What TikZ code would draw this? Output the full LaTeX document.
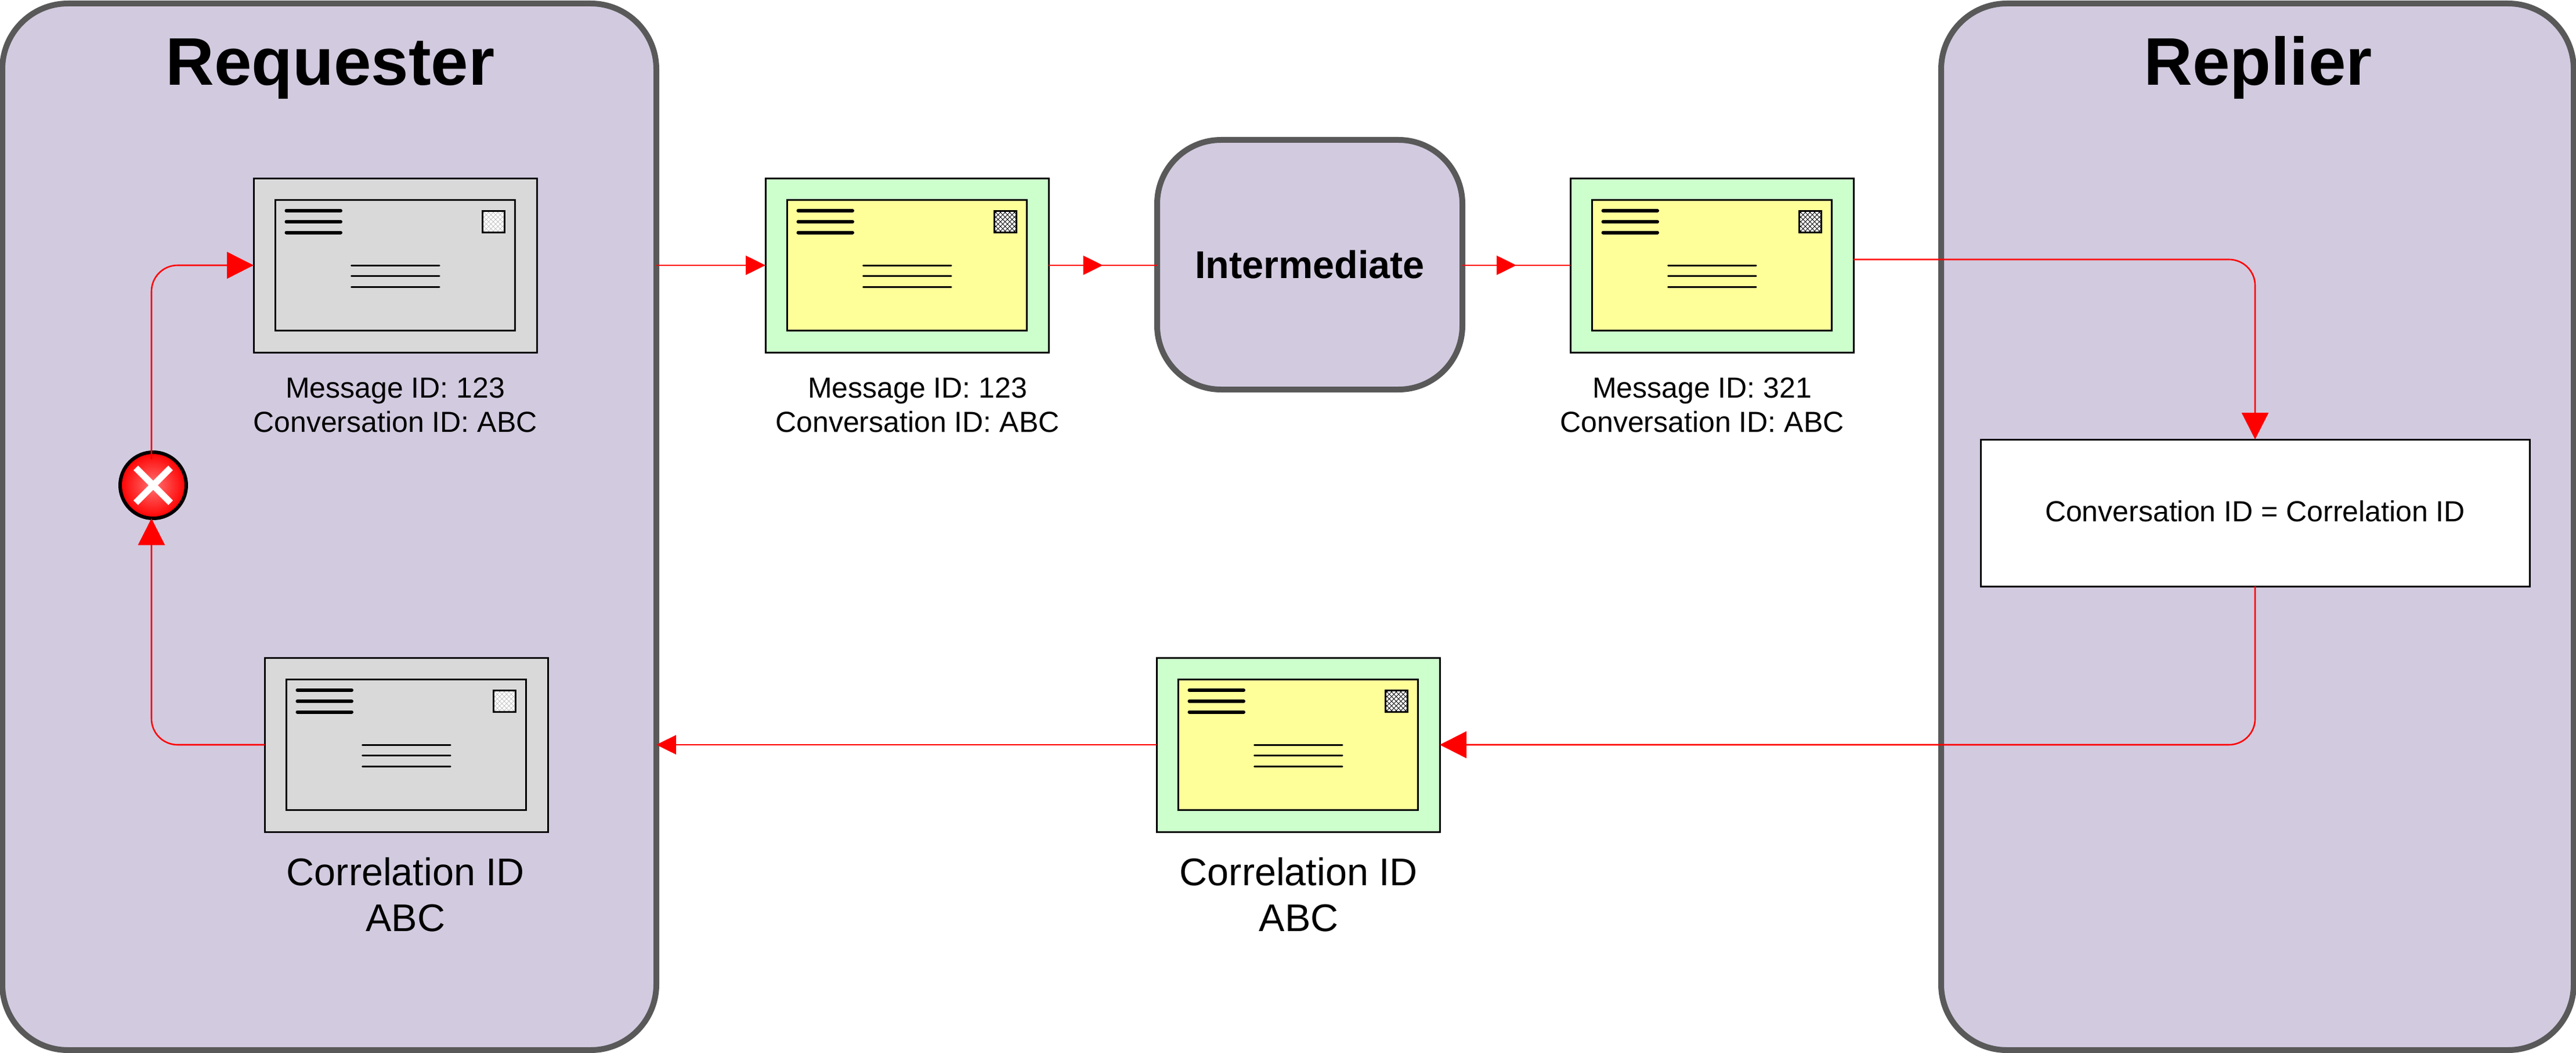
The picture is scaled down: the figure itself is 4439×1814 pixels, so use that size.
\documentclass[tikz,border=0pt]{standalone}
\usepackage{fontspec}
\setmainfont{Liberation Sans}
\usetikzlibrary{arrows.meta,calc,decorations.markings,positioning}
\definecolor{panelfill}{HTML}{D2CADF}
\definecolor{panelline}{HTML}{595959}
\definecolor{envgray}{HTML}{D9D9D9}
\definecolor{envgreen}{HTML}{CCFFCC}
\definecolor{envyellow}{HTML}{FFFF99}
\definecolor{hatchlight}{HTML}{C4C4C4}
\tikzset{
  panel/.style={draw=panelline,fill=panelfill,line width=10pt,rounded corners=113pt,inner sep=0pt,outer sep=0pt},
  envbox/.style={draw=black,line width=3pt,inner sep=0pt,outer sep=0pt,minimum width=488pt,minimum height=300pt,anchor=north west},
  conn/.style={draw=red,line width=2.6pt,rounded corners=45pt},
  bigtip/.tip={Triangle[length=46pt,width=46pt,fill=red]},
  smalltip/.tip={Triangle[length=34pt,width=33pt,fill=red]},
  midtip/.style={postaction={decorate},decoration={markings,mark=at position 0.5 with {\arrow{smalltip}}}},
  small/.style={align=center,font=\fontsize{50}{59.5}\selectfont,inner sep=0pt},
  corr/.style={align=center,font=\fontsize{66.5}{79}\selectfont,inner sep=0pt},
  title/.style={anchor=base,font=\fontsize{116}{120}\selectfont\bfseries,inner sep=0pt},
}
\newcommand{\mailpiece}[6]{%
  \node[envbox,fill=#4] (#1) at (#2,#3) {};
  \begin{scope}[shift={(#2,#3)}]
    \draw[black,line width=3pt,fill=#5] (37.6,37) rectangle (450.6,262);
    \foreach \yy in {56,75,93.5}
      \draw[black,line width=6pt,line cap=round] (56.5,\yy) -- (150,\yy);
    \foreach \yy in {150,168.5,187}
      \draw[black,line width=3pt,line cap=round] (168.5,\yy) -- (320,\yy);
    \fill[white] (394,56) rectangle (432,93);
    \begin{scope}
      \clip (394,56) rectangle (432,93);
      \foreach \dd in {-40,-32,...,40} {
        \draw[#6,line width=1pt] (394+\dd,56) -- (431+\dd,93);
        \draw[#6,line width=1pt] (432+\dd,56) -- (395+\dd,93);
      }
    \end{scope}
    \draw[black,line width=3pt] (394,56) rectangle (432,93);
  \end{scope}
}
\begin{document}
\begin{tikzpicture}[x=1pt,y=-1pt]
\useasboundingbox (0,0) rectangle (4439,1814);
\fill[white] (0,0) rectangle (4439,1814);
% panels
\node[panel,minimum width=1127pt,minimum height=1803pt,anchor=north west] (requester) at (4,6) {};
\node[panel,minimum width=1090pt,minimum height=1803pt,anchor=north west] (replier) at (3345,6) {};
\node[panel,minimum width=526pt,minimum height=430pt,rounded corners=110pt,anchor=north west,font=\fontsize{66.6}{70}\selectfont\bfseries] (intermediate) at (1994,241) {Intermediate};
\node[title] (reqtitle) at (569,147) {Requester};
\node[title] (reptitle) at (3891,147) {Replier};
% process box
\node[draw=black,fill=white,line width=3pt,inner sep=0pt,outer sep=0pt,minimum width=946pt,minimum height=253pt,anchor=north west] (rule) at (3413,757) {};
\node[font=\fontsize{50}{60}\selectfont,inner sep=0pt,yshift=3pt] (ruletext) at (rule.center) {Conversation ID = Correlation ID};
% failure mark
\node[circle,draw=black,line width=6pt,minimum size=114pt,inner sep=0pt,outer sep=0pt,shading=radial,inner color=red!55!white,outer color=red] (xmark) at (264,836) {};
\draw[white,line width=11pt] ([shift={(-30pt,-30pt)}]xmark.center) -- ([shift={(30pt,30pt)}]xmark.center);
\draw[white,line width=11pt] ([shift={(-30pt,30pt)}]xmark.center) -- ([shift={(30pt,-30pt)}]xmark.center);
% envelopes
\mailpiece{grayone}{437}{307}{envgray}{envgray}{hatchlight}
\mailpiece{greenone}{1319}{307}{envgreen}{envyellow}{black}
\mailpiece{greentwo}{2706}{307}{envgreen}{envyellow}{black}
\mailpiece{graytwo}{456}{1133}{envgray}{envgray}{hatchlight}
\mailpiece{greenthree}{1993}{1133}{envgreen}{envyellow}{black}
% connectors
\draw[conn,-{bigtip}] ([xshift=-3pt,yshift=-12pt]xmark.north) |- (grayone.west);
\draw[conn,-{bigtip}] (graytwo.west) -| ([xshift=-3pt]xmark.south);
\draw[conn,-{smalltip}] (requester.east |- greenone.west) -- (greenone.west);
\draw[conn,midtip] (greenone.east) -- (intermediate.west |- greenone.east);
\draw[conn,midtip] (intermediate.east |- greentwo.west) -- (greentwo.west);
\draw[conn,-{bigtip}] ([yshift=10pt]greentwo.east) -| (rule.north);
\draw[conn,-{bigtip}] (rule.south) |- (greenthree.east);
\draw[conn,-{smalltip}] (greenthree.west) -- (requester.east |- greenthree.west);
% labels
\node[small] (lblone) at (681,698) {Message ID: 123\\Conversation ID: ABC};
\node[small] (lbltwo) at (1581,698) {Message ID: 123\\Conversation ID: ABC};
\node[small] (lblthree) at (2933,698) {Message ID: 321\\Conversation ID: ABC};
\node[corr] (lblfour) at (699,1541) {Correlation ID\\ABC};
\node[corr] (lblfive) at (2238,1541) {Correlation ID\\ABC};
\end{tikzpicture}
\end{document}
